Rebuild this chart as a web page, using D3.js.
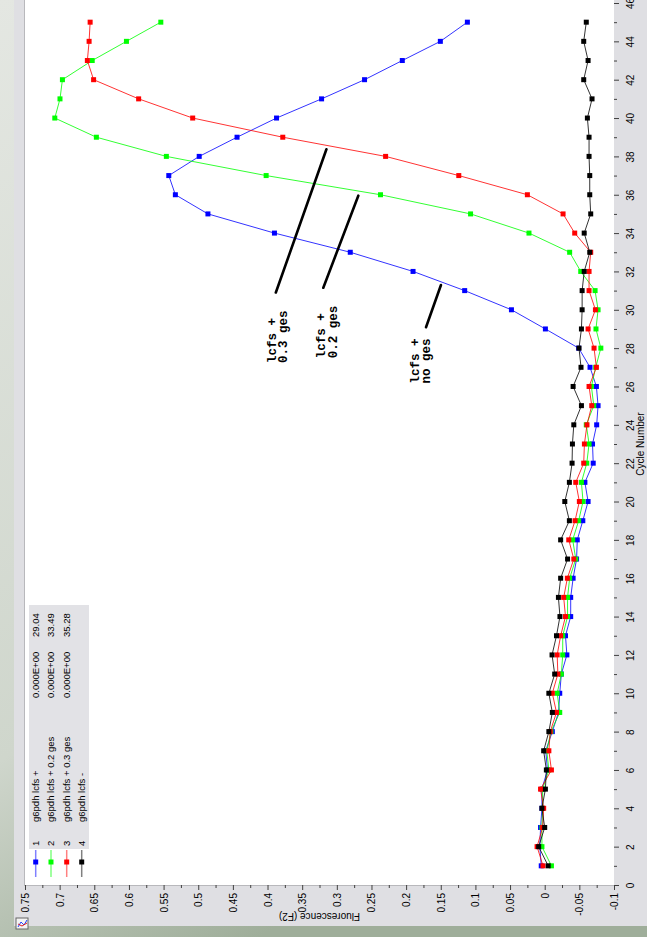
<!DOCTYPE html>
<html>
<head>
<meta charset="utf-8">
<script src="https://cdn.jsdelivr.net/npm/d3@7"></script>
<style>
  body { margin: 0; background: #d3d8d0; }
  svg { display: block; }
</style>
</head>
<body>
<svg width="647" height="937"></svg>
<script>
// cycle numbers (x of the original chart, drawn vertically here)
var cycles = [1, 2, 3, 4, 5, 6, 7, 8, 9, 10, 11, 12, 13, 14, 15, 16, 17, 18, 19, 20,
    21, 22, 23, 24, 25, 26, 27, 28, 29, 30, 31, 32, 33, 34, 35, 36, 37, 38, 39, 40,
    41, 42, 43, 44, 45];

// fluorescence (F2) per cycle
var blueVals = [0.005, 0.007, 0.006, 0.004, 0.004, -0.004, -0.0015, -0.011, -0.02, -0.0217,
    -0.024, -0.032, -0.030, -0.0375, -0.0375, -0.041, -0.046, -0.047, -0.055, -0.0626,
    -0.058, -0.070, -0.069, -0.075, -0.077, -0.0746, -0.0654, -0.049, -0.001, 0.048,
    0.1155, 0.19, 0.2806, 0.39, 0.486, 0.533, 0.5425, 0.4986, 0.444, 0.387,
    0.322, 0.26, 0.2055, 0.1506, 0.1116];
var greenVals = [-0.0097, 0.004, 0.004, 0.003, 0.003, -0.006, -0.003, -0.009, -0.0217, -0.018,
    -0.024, -0.026, -0.026, -0.033, -0.033, -0.036, -0.0448, -0.0404, -0.049, -0.0553,
    -0.053, -0.0607, -0.064, -0.060, -0.0708, -0.0674, -0.0736, -0.081, -0.074, -0.077,
    -0.0727, -0.052, -0.036, 0.0227, 0.107, 0.237, 0.402, 0.546, 0.647, 0.707,
    0.6995, 0.696, 0.653, 0.6036, 0.554];
var redVals = [0.0025, 0.011, 0.003, 0.0015, 0.006, -0.0097, -0.006, -0.008, -0.017, -0.011,
    -0.019, -0.018, -0.023, -0.030, -0.0274, -0.0327, -0.042, -0.0347, -0.0438, -0.050,
    -0.0448, -0.0563, -0.0573, -0.061, -0.0679, -0.064, -0.0746, -0.0712, -0.0626, -0.0732,
    -0.064, -0.064, -0.0664, -0.0433, -0.0265, 0.025, 0.124, 0.2296, 0.378, 0.508,
    0.586, 0.651, 0.66, 0.6575, 0.656];
var blackVals = [-0.005, 0.0087, 0.0, 0.004, -0.001, -0.0024, 0.0015, -0.006, -0.011, -0.006,
    -0.0144, -0.0106, -0.017, -0.022, -0.0198, -0.023, -0.033, -0.023, -0.0356, -0.029,
    -0.0356, -0.0395, -0.040, -0.042, -0.053, -0.041, -0.0524, -0.0495, -0.053, -0.054,
    -0.054, -0.057, -0.065, -0.057, -0.0664, -0.065, -0.065, -0.064, -0.064, -0.0616,
    -0.0683, -0.0563, -0.0626, -0.0563, -0.060];

// legend table
var legendNums = ["1", "2", "3", "4"];
var legendNames = ["g6pdh lcfs +", "g6pdh lcfs + 0.2 ges", "g6pdh lcfs + 0.3 ges", "g6pdh lcfs -"];
var legendConc = ["0.000E+00", "0.000E+00", "0.000E+00", ""];
var legendCt = ["29.04", "33.49", "35.28", ""];

// tick values
var cycleTicks = [0, 2, 4, 6, 8, 10, 12, 14, 16, 18, 20, 22, 24, 26, 28, 30, 32, 34, 36, 38, 40, 42, 44, 46];
var fluoTicks = [0.75, 0.7, 0.65, 0.6, 0.55, 0.5, 0.45, 0.4, 0.35, 0.3, 0.25, 0.2, 0.15, 0.1, 0.05, 0, -0.05, -0.1];

// hand-drawn notes: [cycle, fluorescence] ends of each stroke, and text anchor
var noteLines = [
    [[38.37, 0.315], [30.9, 0.388]],
    [[35.95, 0.269], [31.15, 0.3195]],
    [[31.29, 0.1497], [29.09, 0.1713]]
];
var noteTexts = [
    {c: 27.23, f: 0.3944, lines: ["lcfs +", "0.3 ges"]},
    {c: 27.47, f: 0.3228, lines: ["lcfs +", "0.2 ges"]},
    {c: 26.16, f: 0.1882, lines: ["lcfs +", "no ges"]}
];

var svg = d3.select("svg");

// background behind the window
var defs = svg.append("defs");
var grad = defs.append("linearGradient").attr("id", "bg")
    .attr("x1", 0).attr("y1", 0).attr("x2", 0.4).attr("y2", 1);
grad.append("stop").attr("offset", "0%").attr("stop-color", "#e4e7e2");
grad.append("stop").attr("offset", "70%").attr("stop-color", "#cfd6cc");
grad.append("stop").attr("offset", "100%").attr("stop-color", "#9fae9a");
svg.append("rect").attr("width", 647).attr("height", 937).attr("fill", "url(#bg)");

// window panel and plot area
svg.append("rect").attr("x", 14).attr("y", 0).attr("width", 633).attr("height", 926)
    .attr("fill", "#dfdfe3");
svg.append("rect").attr("x", 25).attr("y", 0).attr("width", 589).attr("height", 885)
    .attr("fill", "#ffffff");
svg.append("line").attr("x1", 24.5).attr("x2", 24.5).attr("y1", 0).attr("y2", 885)
    .attr("stroke", "#b8b8bc");
svg.append("line").attr("x1", 24).attr("x2", 614).attr("y1", 885.5).attr("y2", 885.5)
    .attr("stroke", "#b8b8bc");

var x = d3.scaleLinear().domain([-0.1, 0.75]).range([614, 25]);
var y = d3.scaleLinear().domain([0, 46]).range([885, 3]);

// cycle axis (right)
var minorCycles = d3.range(1, 46, 2);
svg.append("g").attr("transform", "translate(614,0)")
    .call(d3.axisRight(y).tickValues(minorCycles).tickSize(3).tickFormat(""))
    .call(g => g.select(".domain").remove())
    .selectAll("line").attr("stroke", "#404040");
var cAxis = svg.append("g").attr("transform", "translate(614,0)")
    .call(d3.axisRight(y).tickValues(cycleTicks).tickSize(5).tickFormat(d3.format("d")));
cAxis.select(".domain").remove();
cAxis.selectAll("line").attr("stroke", "#404040");
cAxis.selectAll("text")
    .attr("x", 0).attr("y", 0).attr("dy", "0.35em")
    .attr("transform", "translate(16,0) rotate(-90)")
    .attr("text-anchor", "middle")
    .attr("fill", "#000")
    .style("font-family", "Liberation Sans, Arial, sans-serif")
    .style("font-size", "10px");

// fluorescence axis (bottom)
var minorFluo = fluoTicks.slice(0, -1).map(function(d) { return d - 0.025; });
svg.append("g").attr("transform", "translate(0,885)")
    .call(d3.axisBottom(x).tickValues(minorFluo).tickSize(3).tickFormat(""))
    .call(g => g.select(".domain").remove())
    .selectAll("line").attr("stroke", "#404040");
var fAxis = svg.append("g").attr("transform", "translate(0,885)")
    .call(d3.axisBottom(x).tickValues(fluoTicks).tickSize(5)
        .tickFormat(function(d) { return String(+d.toFixed(2)); }));
fAxis.select(".domain").remove();
fAxis.selectAll("line").attr("stroke", "#404040");
fAxis.selectAll("text")
    .attr("x", 0).attr("y", 0).attr("dy", "0.35em")
    .attr("transform", "translate(0,8) rotate(-90)")
    .attr("text-anchor", "end")
    .attr("fill", "#000")
    .style("font-family", "Liberation Sans, Arial, sans-serif")
    .style("font-size", "10px");

// axis titles
svg.append("text")
    .attr("transform", "translate(640,444) rotate(-90)")
    .attr("text-anchor", "middle").attr("dy", "0.35em")
    .style("font-family", "Liberation Sans, Arial, sans-serif").style("font-size", "10px")
    .text("Cycle Number");
svg.append("text")
    .attr("transform", "translate(319.5,916) rotate(180)")
    .attr("text-anchor", "middle").attr("dy", "0.35em")
    .style("font-family", "Liberation Sans, Arial, sans-serif").style("font-size", "10px")
    .text("Fluorescence (F2)");

// small window icon, bottom left
var icon = svg.append("g").attr("transform", "translate(16,918)");
icon.append("rect").attr("width", 12).attr("height", 11).attr("fill", "#f4f4f4").attr("stroke", "#666");
icon.append("path").attr("d", "M2,9 L5,4 L8,7 L11,2").attr("fill", "none").attr("stroke", "#2040ff");
icon.append("path").attr("d", "M2,6 L6,8 L11,5").attr("fill", "none").attr("stroke", "#e02020");

// data series
var series = [
    {values: blueVals, color: "#0000ff", light: "#8080ff"},
    {values: greenVals, color: "#00ff00", light: "#80ff80"},
    {values: redVals, color: "#ff0000", light: "#ff8080"},
    {values: blackVals, color: "#000000", light: "#808080"}
];

var line = d3.line()
    .x(function(d) { return x(d.f); })
    .y(function(d) { return y(d.c); });

series.forEach(function(s) {
    var pts = cycles.map(function(c, i) { return {c: c, f: s.values[i]}; });
    var g = svg.append("g");
    g.append("path").datum(pts)
        .attr("d", line)
        .attr("fill", "none")
        .attr("stroke", s.color)
        .attr("stroke-opacity", 0.8)
        .attr("stroke-width", 1);
    g.selectAll("rect").data(pts).enter().append("rect")
        .attr("x", function(d) { return x(d.f) - 2.5; })
        .attr("y", function(d) { return y(d.c) - 2.5; })
        .attr("width", 5).attr("height", 5)
        .attr("fill", s.color);
});

// hand-drawn notes
noteLines.forEach(function(l) {
    svg.append("line")
        .attr("x1", x(l[0][1])).attr("y1", y(l[0][0]))
        .attr("x2", x(l[1][1])).attr("y2", y(l[1][0]))
        .attr("stroke", "#000").attr("stroke-width", 2.6).attr("stroke-linecap", "round");
});
noteTexts.forEach(function(n) {
    n.lines.forEach(function(t, i) {
        svg.append("text")
            .attr("transform", "translate(" + (x(n.f) + i * 11.7) + "," + y(n.c) + ") rotate(-90)")
            .attr("dy", "0.35em")
            .style("font-family", "Liberation Mono, Courier New, monospace")
            .style("font-size", "12.5px")
            .style("font-weight", "bold")
            .style("white-space", "pre")
            .text(t);
    });
});

// legend
var legX = [35.7, 51, 66.7, 81.7];
svg.append("rect").attr("x", 29).attr("y", 605).attr("width", 60).attr("height", 244)
    .attr("fill", "#e2e2e6");
var legFont = "Liberation Sans, Arial, sans-serif";
function legText(xp, yp, t) {
    svg.append("text")
        .attr("transform", "translate(" + xp + "," + yp + ") rotate(-90)")
        .attr("dy", "0.35em")
        .style("font-family", legFont).style("font-size", "9.5px")
        .text(t);
}
legendNums.forEach(function(num, i) {
    var xp = legX[i];
    legText(xp, 846, num);
    legText(xp, 822, legendNames[i]);
    if (legendConc[i]) legText(xp, 698, legendConc[i]);
    if (legendCt[i]) legText(xp, 637, legendCt[i]);
    svg.append("line").attr("x1", xp).attr("x2", xp).attr("y1", 850).attr("y2", 877)
        .attr("stroke", series[i].light).attr("stroke-width", 1.5);
    svg.append("rect").attr("x", xp - 2.5).attr("y", 859.5).attr("width", 5).attr("height", 5)
        .attr("fill", series[i].color);
});
</script>
</body>
</html>
